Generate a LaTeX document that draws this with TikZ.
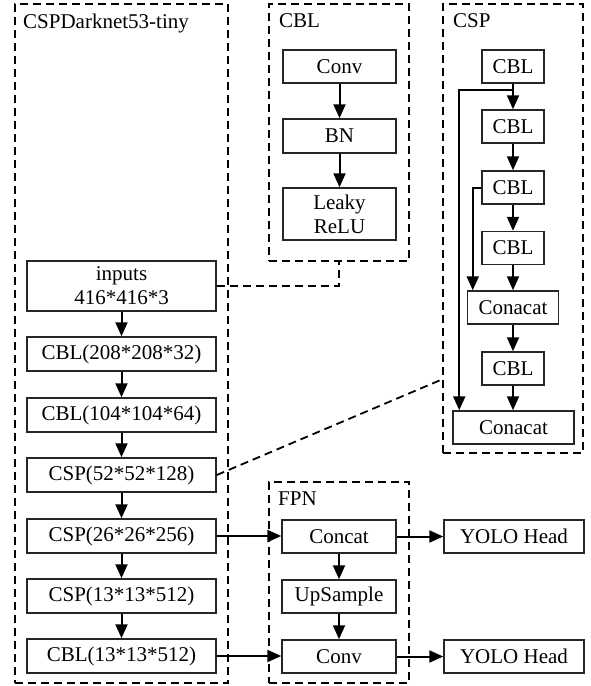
\documentclass[tikz,border=0pt]{standalone}
\usepackage{fontspec}
\setmainfont{Liberation Serif}
\usetikzlibrary{arrows.meta,calc}
\begin{document}
\begin{tikzpicture}[x=1pt,y=-1pt,
  box/.style={draw=black!85,line width=1.5pt,inner sep=0pt,font=\fontsize{21}{24}\selectfont,align=center},
  grp/.style={draw=black,line width=2pt,dash pattern=on 8pt off 5pt,inner sep=0pt},
  ttl/.style={anchor=base west,inner sep=0pt,font=\fontsize{21}{24}\selectfont},
  arr/.style={line width=2pt,-{Triangle[length=14pt,width=12pt]}},
  dconn/.style={line width=1.8pt,dash pattern=on 8pt off 5pt}]
\useasboundingbox (0,0) rectangle (590,686);
% groups
\node[grp,minimum width=213,minimum height=679] (gdark) at (121.5,343.5) {};
\node[grp,minimum width=140,minimum height=257] (gcbl) at (339,132.5) {};
\node[grp,minimum width=140,minimum height=449] (gcsp) at (513,228.5) {};
\node[grp,minimum width=140,minimum height=201] (gfpn) at (339,582.5) {};
\node[ttl] (tdark) at (23,28) {CSPDarknet53-tiny};
\node[ttl] (tcbl) at (279,27) {CBL};
\node[ttl] (tcsp) at (453,27) {CSP};
\node[ttl] (tfpn) at (278,505) {FPN};
% backbone
\node[box,minimum width=189,minimum height=50] (inputs) at (121.5,286) {inputs\\416*416*3};
\node[box,minimum width=189,minimum height=34] (c1) at (121.5,354) {CBL(208*208*32)};
\node[box,minimum width=189,minimum height=34] (c2) at (121.5,415) {CBL(104*104*64)};
\node[box,minimum width=189,minimum height=34] (c3) at (121.5,475) {CSP(52*52*128)};
\node[box,minimum width=189,minimum height=34] (c4) at (121.5,536) {CSP(26*26*256)};
\node[box,minimum width=189,minimum height=34] (c5) at (121.5,596) {CSP(13*13*512)};
\node[box,minimum width=189,minimum height=34] (c6) at (121.5,656) {CBL(13*13*512)};
\foreach \a/\b in {inputs/c1,c1/c2,c2/c3,c3/c4,c4/c5,c5/c6} \draw[arr] (\a) -- (\b);
% CBL
\node[box,minimum width=113,minimum height=33] (conv) at (339.5,66.5) {Conv};
\node[box,minimum width=113,minimum height=34] (bn) at (339.5,136) {BN};
\node[box,minimum width=113,minimum height=52] (leaky) at (339.5,214) {Leaky\\ReLU};
\draw[arr] (conv) -- (bn);
\draw[arr] (bn) -- (leaky);
% CSP
\node[box,minimum width=62,minimum height=33] (s1) at (513,66.5) {CBL};
\node[box,minimum width=62,minimum height=33] (s2) at (513,126.5) {CBL};
\node[box,minimum width=62,minimum height=33] (s3) at (513,187.5) {CBL};
\node[box,minimum width=62,minimum height=33] (s4) at (513,248) {CBL};
\node[box,minimum width=91,minimum height=33] (k1) at (513,307.5) {Conacat};
\node[box,minimum width=62,minimum height=33] (s5) at (513,368.5) {CBL};
\node[box,minimum width=121,minimum height=33] (k2) at (513.5,427.5) {Conacat};
\foreach \a/\b in {s1/s2,s2/s3,s3/s4,s4/k1,k1/s5} \draw[arr] (\a) -- (\b);
\draw[arr] (s5.south) -- (s5.south |- k2.north);
\draw[arr] ($(s1.south)+(0,6)$) -| ($(k2.north west)+(7,0)$);
\draw[arr] (s3.west) -| ($(k1.north west)+(6,0)$);
% FPN
\node[box,minimum width=114,minimum height=33] (concat) at (339,536.5) {Concat};
\node[box,minimum width=114,minimum height=33] (up) at (339,596.5) {UpSample};
\node[box,minimum width=114,minimum height=33] (fconv) at (339,656.5) {Conv};
\node[box,minimum width=140,minimum height=33] (y1) at (514,536.5) {YOLO Head};
\node[box,minimum width=140,minimum height=33] (y2) at (514,656.5) {YOLO Head};
\draw[arr] (concat) -- (up);
\draw[arr] (up) -- (fconv);
\draw[arr] (c4.east) -- (c4.east -| concat.west);
\draw[arr] (c6.east) -- (c6.east -| fconv.west);
\draw[arr] (concat) -- (y1);
\draw[arr] (fconv) -- (y2);
% dashed links
\draw[dconn] (inputs.east) -| (gcbl.south);
\coordinate (cspin) at (443,379);
\draw[dconn] (c3.east) -- (cspin);
\end{tikzpicture}
\end{document}
